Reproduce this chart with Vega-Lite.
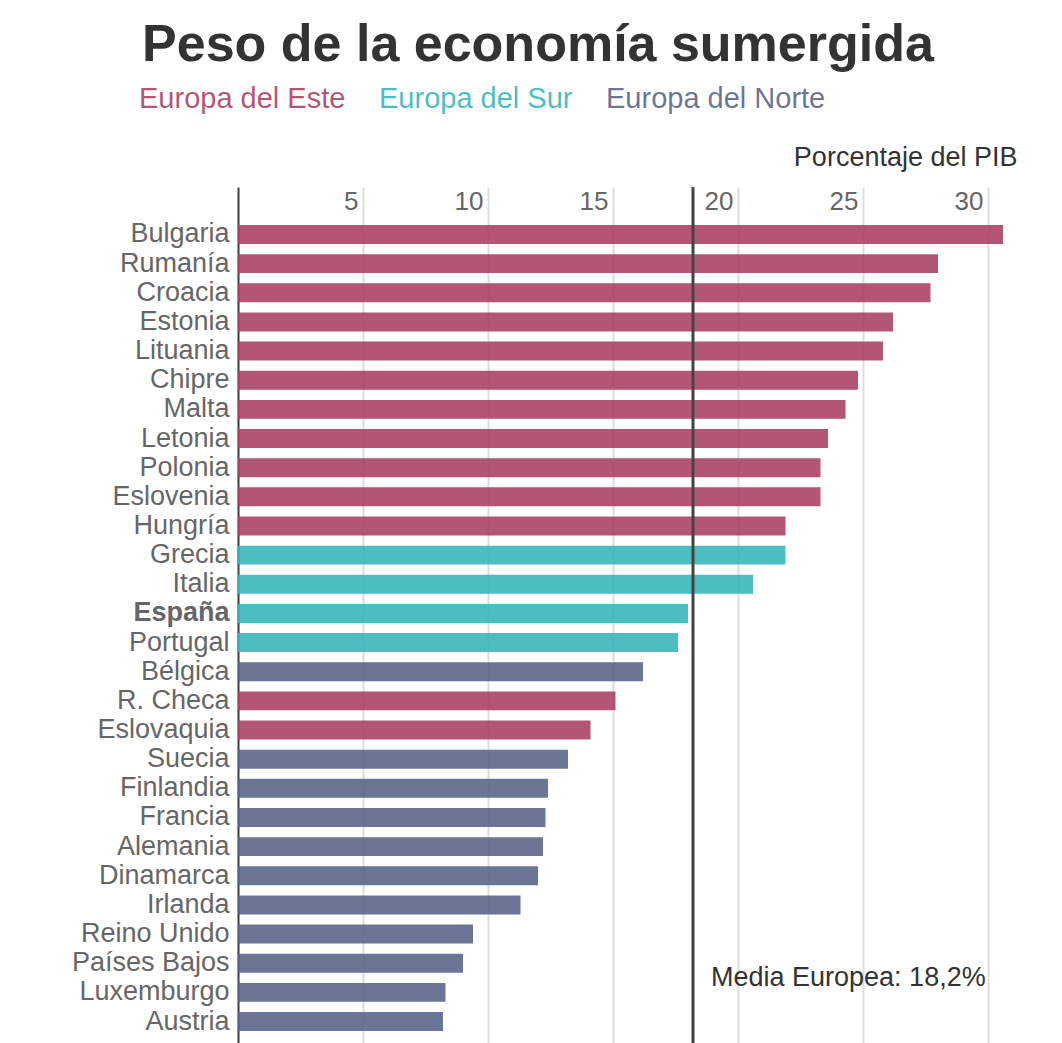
{
  "$schema": "https://vega.github.io/schema/vega-lite/v6.json",
  "autosize": "none",
  "width": 800,
  "height": 856,
  "padding": {"left": 238, "top": 187, "right": 24, "bottom": 0},
  "background": "white",
  "config": {
    "font": "Liberation Sans",
    "view": {"stroke": null}
  },
  "title": {
    "text": "Peso de la economía sumergida",
    "fontSize": 52,
    "fontWeight": "bold",
    "color": "#333333",
    "anchor": "middle",
    "dx": -100,
    "dy": -8
  },
  "layer": [
    {
      "data": {
        "values": [
          {"pais": "Bulgaria", "valor": 30.6, "region": "Europa del Este"},
          {"pais": "Rumanía", "valor": 28.0, "region": "Europa del Este"},
          {"pais": "Croacia", "valor": 27.7, "region": "Europa del Este"},
          {"pais": "Estonia", "valor": 26.2, "region": "Europa del Este"},
          {"pais": "Lituania", "valor": 25.8, "region": "Europa del Este"},
          {"pais": "Chipre", "valor": 24.8, "region": "Europa del Este"},
          {"pais": "Malta", "valor": 24.3, "region": "Europa del Este"},
          {"pais": "Letonia", "valor": 23.6, "region": "Europa del Este"},
          {"pais": "Polonia", "valor": 23.3, "region": "Europa del Este"},
          {"pais": "Eslovenia", "valor": 23.3, "region": "Europa del Este"},
          {"pais": "Hungría", "valor": 21.9, "region": "Europa del Este"},
          {"pais": "Grecia", "valor": 21.9, "region": "Europa del Sur"},
          {"pais": "Italia", "valor": 20.6, "region": "Europa del Sur"},
          {"pais": "España", "valor": 18.0, "region": "Europa del Sur"},
          {"pais": "Portugal", "valor": 17.6, "region": "Europa del Sur"},
          {"pais": "Bélgica", "valor": 16.2, "region": "Europa del Norte"},
          {"pais": "R. Checa", "valor": 15.1, "region": "Europa del Este"},
          {"pais": "Eslovaquia", "valor": 14.1, "region": "Europa del Este"},
          {"pais": "Suecia", "valor": 13.2, "region": "Europa del Norte"},
          {"pais": "Finlandia", "valor": 12.4, "region": "Europa del Norte"},
          {"pais": "Francia", "valor": 12.3, "region": "Europa del Norte"},
          {"pais": "Alemania", "valor": 12.2, "region": "Europa del Norte"},
          {"pais": "Dinamarca", "valor": 12.0, "region": "Europa del Norte"},
          {"pais": "Irlanda", "valor": 11.3, "region": "Europa del Norte"},
          {"pais": "Reino Unido", "valor": 9.4, "region": "Europa del Norte"},
          {"pais": "Países Bajos", "valor": 9.0, "region": "Europa del Norte"},
          {"pais": "Luxemburgo", "valor": 8.3, "region": "Europa del Norte"},
          {"pais": "Austria", "valor": 8.2, "region": "Europa del Norte"}
        ]
      },
      "mark": {"type": "bar", "opacity": 0.88},
      "encoding": {
        "y": {
          "field": "pais",
          "type": "nominal",
          "sort": null,
          "scale": {"paddingInner": 0.35, "paddingOuter": 0.857, "align": 0.76},
          "axis": {
            "title": null,
            "domainColor": "#444444",
            "domainWidth": 2,
            "ticks": false,
            "labelFontSize": 27,
            "labelColor": "#666666",
            "labelPadding": 9,
            "labelFontWeight": {"expr": "datum.value == 'España' ? 'bold' : 'normal'"}
          }
        },
        "x": {
          "field": "valor",
          "type": "quantitative",
          "scale": {"domain": [0, 32], "nice": false},
          "axis": {
            "orient": "top",
            "values": [0, 5, 10, 15, 20, 25, 30],
            "domain": false,
            "ticks": false,
            "tickSize": 0,
            "grid": true,
            "gridColor": "#dddddd",
            "gridWidth": 2,
            "labelExpr": "datum.value == 0 ? '' : datum.label",
            "labelAlign": "right",
            "labelBaseline": "alphabetic",
            "labelPadding": -22,
            "labelOffset": -5,
            "labelFontSize": 26,
            "labelColor": "#666666",
            "title": "Porcentaje del PIB",
            "titleFontSize": 27,
            "titleFontWeight": "normal",
            "titleColor": "#333333",
            "titleAnchor": "end",
            "titleAlign": "right",
            "titleBaseline": "alphabetic",
            "titleX": 779,
            "titleY": -22
          }
        },
        "color": {
          "field": "region",
          "type": "nominal",
          "scale": {
            "domain": ["Europa del Este", "Europa del Sur", "Europa del Norte"],
            "range": ["#a93d62", "#33b5ba", "#576288"]
          },
          "legend": {
            "title": null,
            "orient": "none",
            "direction": "horizontal",
            "legendX": -128,
            "legendY": -103,
            "symbolSize": 0,
            "symbolStrokeWidth": 0,
            "symbolOpacity": 0,
            "labelOffset": 0,
            "labelFontSize": 29,
            "columnPadding": 4,
            "labelLimit": 400,
            "encode": {
              "labels": {"update": {"fill": {"scale": "color", "field": "value"}, "fillOpacity": {"value": 0.88}}}
            }
          }
        }
      }
    },
    {
      "data": {"values": [{"media": 18.2}]},
      "mark": {"type": "rule", "color": "#444444", "strokeWidth": 3},
      "encoding": {
        "x": {"field": "media", "type": "quantitative"}
      }
    },
    {
      "data": {"values": [{"media": 18.2, "pais": "Luxemburgo", "texto": "Media Europea: 18,2%"}]},
      "mark": {"type": "text", "align": "left", "baseline": "middle", "dx": 18, "dy": -14, "fontSize": 27, "color": "#333333"},
      "encoding": {
        "x": {"field": "media", "type": "quantitative"},
        "y": {"field": "pais", "type": "nominal", "sort": null},
        "text": {"field": "texto"}
      }
    }
  ]
}
